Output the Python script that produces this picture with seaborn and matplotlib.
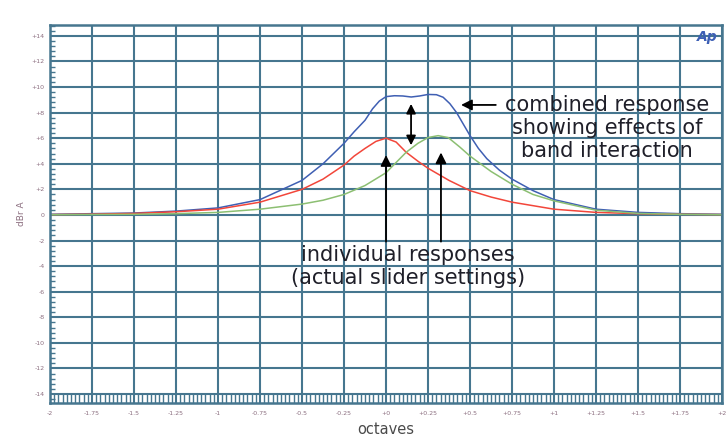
import matplotlib
matplotlib.use('Agg')
import matplotlib.pyplot as plt
from matplotlib.ticker import MultipleLocator
import seaborn as sns
import numpy as np
import pandas as pd

# values (octaves, dB)
blue_x = [-2.0, -1.75, -1.5, -1.25, -1.0, -0.75, -0.5, -0.375, -0.25, -0.19, -0.125, -0.08,
          -0.04, 0.0, 0.05, 0.1, 0.15, 0.2, 0.25, 0.3, 0.34, 0.38, 0.42, 0.46, 0.5, 0.55,
          0.6, 0.675, 0.75, 0.875, 1.0, 1.25, 1.5, 1.75, 2.0]
blue_y = [0.05, 0.1, 0.15, 0.3, 0.55, 1.2, 2.7, 4.0, 5.6, 6.5, 7.4, 8.3,
          8.9, 9.25, 9.32, 9.3, 9.22, 9.3, 9.42, 9.4, 9.2, 8.7, 8.0, 7.1, 6.2, 5.2,
          4.4, 3.5, 2.8, 1.9, 1.2, 0.45, 0.2, 0.1, 0.05]

red_x = [-2.0, -1.75, -1.5, -1.25, -1.0, -0.75, -0.5, -0.375, -0.25, -0.19, -0.125, -0.06,
         0.0, 0.06, 0.12, 0.19, 0.25, 0.375, 0.5, 0.625, 0.75, 1.0, 1.25, 1.5, 1.75, 2.0]
red_y = [0.03, 0.06, 0.12, 0.25, 0.45, 1.0, 2.0, 2.8, 3.9, 4.6, 5.2, 5.75,
         6.0, 5.7, 4.9, 4.2, 3.65, 2.7, 1.9, 1.4, 1.0, 0.45, 0.2, 0.1, 0.05, 0.03]

green_x = [-2.0, -1.5, -1.25, -1.0, -0.75, -0.5, -0.375, -0.25, -0.125, 0.0, 0.06, 0.12,
           0.19, 0.25, 0.31, 0.37, 0.44, 0.5, 0.625, 0.75, 0.875, 1.0, 1.25, 1.5, 1.75, 2.0]
green_y = [0.02, 0.05, 0.1, 0.2, 0.45, 0.85, 1.15, 1.6, 2.3, 3.3, 4.1, 4.9,
           5.6, 6.05, 6.2, 6.05, 5.3, 4.6, 3.4, 2.4, 1.6, 1.1, 0.37, 0.12, 0.05, 0.02]

x_ticks = [-2, -1.75, -1.5, -1.25, -1, -0.75, -0.5, -0.25, 0, 0.25, 0.5, 0.75, 1, 1.25, 1.5, 1.75, 2]
x_labels = ['-2', '-1.75', '-1.5', '-1.25', '-1', '-0.75', '-0.5', '-0.25', '+0',
            '+0.25', '+0.5', '+0.75', '+1', '+1.25', '+1.5', '+1.75', '+2']
y_ticks = [-14, -12, -10, -8, -6, -4, -2, 0, 2, 4, 6, 8, 10, 12, 14]
y_labels = ['-14', '-12', '-10', '-8', '-6', '-4', '-2', '0',
            '+2', '+4', '+6', '+8', '+10', '+12', '+14']

sns.set_style("white")
plt.rcParams['font.family'] = ['DejaVu Sans']

grid_col = '#46768f'
label_col = '#8c6f80'

fig = plt.figure(figsize=(7.28, 4.43), dpi=100)
ax = fig.add_axes([0.0687, 0.0903, 0.9231, 0.8533])

sns.lineplot(x=blue_x, y=blue_y, ax=ax, color='#3f5fb3', lw=1.1)
sns.lineplot(x=red_x, y=red_y, ax=ax, color='#f2463a', lw=1.1)
sns.lineplot(x=green_x, y=green_y, ax=ax, color='#8cbf72', lw=1.1)

ax.set_xlim(-2, 2)
ax.set_ylim(-14.7, 14.85)
ax.set_xticks(x_ticks)
ax.set_xticklabels(x_labels)
ax.set_yticks(y_ticks)
ax.set_yticklabels(y_labels)
ax.xaxis.set_minor_locator(MultipleLocator(0.025))
ax.yaxis.set_minor_locator(MultipleLocator(0.4))
ax.tick_params(axis='x', which='major', length=0, pad=6, labelsize=4.5, labelcolor=label_col)
ax.tick_params(axis='x', which='minor', direction='in', length=6.5, width=1.0,
               color=grid_col, bottom=True, top=False)
ax.tick_params(axis='y', which='major', direction='in', length=4, width=1.4,
               color=grid_col, pad=4, labelsize=4.5, labelcolor=label_col)
ax.tick_params(axis='y', which='minor', direction='in', length=3.5, width=1.0,
               color=grid_col, left=True, right=False)
ax.grid(True, which='major', color=grid_col, lw=1.5)
ax.set_axisbelow(True)
for s in ax.spines.values():
    s.set_visible(True)
    s.set_color(grid_col)
    s.set_linewidth(1.8)

ax.set_xlabel('octaves', fontsize=10.5, color='#4a4a4a', labelpad=4)
ax.set_ylabel('dBr A', fontsize=6.5, color=label_col, labelpad=4)

txt_col = '#1f1f29'
ax.text(1.315, 6.8, 'combined response\nshowing effects of\nband interaction',
        ha='center', va='center', fontsize=15, color=txt_col, linespacing=1.2)
ax.text(0.131, -4.0, 'individual responses\n(actual slider settings)',
        ha='center', va='center', fontsize=15, color=txt_col, linespacing=1.2)

arr = dict(arrowstyle='-|>', color='black', lw=1.3, mutation_scale=16)
ax.annotate('', xy=(0.43, 8.6), xytext=(0.67, 8.6), arrowprops=arr)
ax.annotate('', xy=(0.0, 4.9), xytext=(0.0, -2.3), arrowprops=arr)
ax.annotate('', xy=(0.327, 5.1), xytext=(0.327, -2.3), arrowprops=arr)
ax.annotate('', xy=(0.149, 8.9), xytext=(0.149, 5.23),
            arrowprops=dict(arrowstyle='<|-|>', color='black', lw=1.3, mutation_scale=14))

ax.text(1.975, 13.9, 'Ap', ha='right', va='center', fontsize=10, fontweight='bold',
        fontstyle='italic', color='#3d5fb5')

fig.savefig('out.png', dpi=100, facecolor='white')
